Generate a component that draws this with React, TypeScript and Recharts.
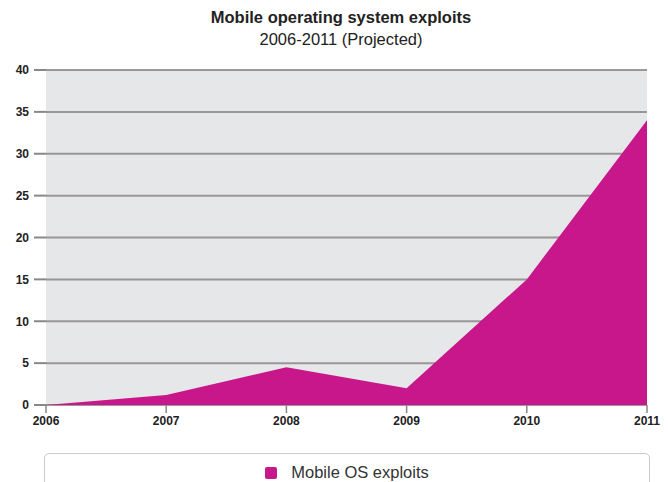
import React from 'react';
import { AreaChart, Area, XAxis, YAxis, CartesianGrid } from 'recharts';

const years = ['2006', '2007', '2008', '2009', '2010', '2011'];
const exploits = [0, 1.2, 4.5, 2, 15, 34];
const yTicks = [0, 5, 10, 15, 20, 25, 30, 35, 40];

const data = years.map((year, i) => ({ year, exploits: exploits[i] }));

const FONT = '"Liberation Sans", Arial, Helvetica, sans-serif';
const MAGENTA = '#c8168b';
const GRID = '#8b8786';

const App: React.FC = () => {
  return (
    <div style={{ position: 'absolute', left: 0, top: 0, width: 668, height: 482, background: '#fff', fontFamily: FONT, overflow: 'hidden' }}>
      <div style={{ position: 'absolute', left: 0, width: 682, top: 8, textAlign: 'center', color: '#222', lineHeight: '19px' }}>
        <div style={{ fontWeight: 'bold', fontSize: 16.5 }}>Mobile operating system exploits</div>
        <div style={{ fontSize: 16.5, marginTop: 3 }}>2006-2011 (Projected)</div>
      </div>
      <AreaChart width={668} height={482} data={data} margin={{ top: 70, right: 21, left: 0, bottom: 47 }}>
        <CartesianGrid horizontal={false} vertical={false} fill="#e6e7e8" />
        <XAxis
          dataKey="year"
          axisLine={false}
          tickLine={{ stroke: GRID, strokeWidth: 1.5 }}
          tickSize={8}
          tickMargin={3}
          height={30}
          interval={0}
          tick={{ fill: '#222', fontSize: 12, fontWeight: 'bold', fontFamily: FONT }}
        />
        <YAxis
          domain={[0, 40]}
          ticks={yTicks}
          width={46}
          axisLine={false}
          tickLine={{ stroke: GRID, strokeWidth: 2 }}
          tickSize={12}
          tickMargin={5}
          tick={{ fill: '#222', fontSize: 12, fontWeight: 'bold', fontFamily: FONT }}
        />
        <Area
          type="linear"
          dataKey="exploits"
          name="Mobile OS exploits"
          stroke="none"
          fill={MAGENTA}
          fillOpacity={1}
          isAnimationActive={false}
        />
        <CartesianGrid vertical={false} stroke={GRID} strokeWidth={2} strokeOpacity={0.85} />
      </AreaChart>
      <div style={{ position: 'absolute', left: 44, top: 453, width: 606, height: 40, border: '1px solid #cdc9c7', borderRadius: 5, background: '#fff', display: 'flex', justifyContent: 'center', paddingTop: 9, boxSizing: 'border-box' }}>
        <div style={{ display: 'flex', alignItems: 'center', gap: 14, height: 19 }}>
          <span style={{ width: 12, height: 12, background: MAGENTA, borderRadius: 2, display: 'inline-block' }} />
          <span style={{ fontSize: 16.5, lineHeight: '19px', color: '#333' }}>Mobile OS exploits</span>
        </div>
      </div>
    </div>
  );
};

export default App;
